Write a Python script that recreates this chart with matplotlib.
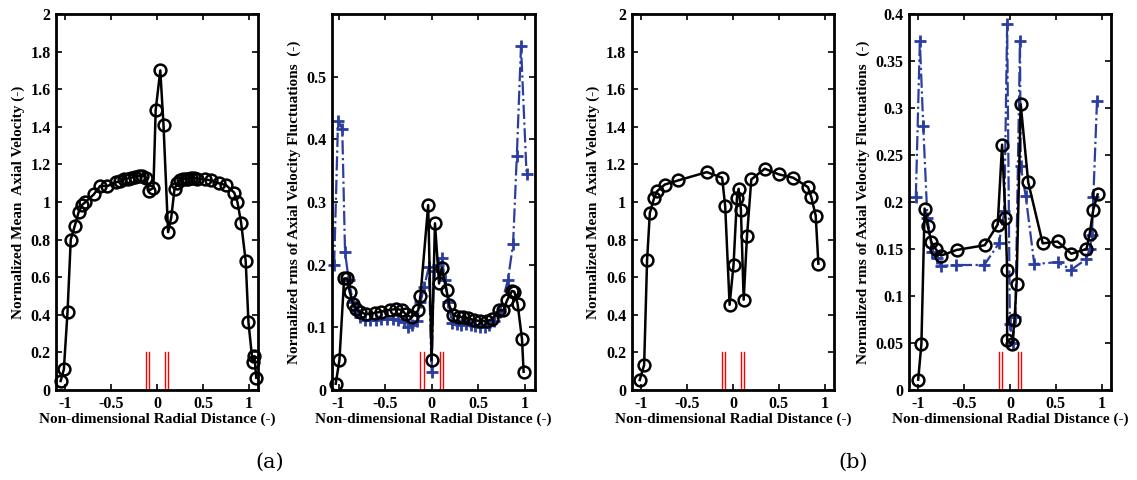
import numpy as np
import matplotlib
matplotlib.use('Agg')
import matplotlib.pyplot as plt
from matplotlib.ticker import FormatStrFormatter

plt.rcParams['font.family'] = 'Liberation Serif'
plt.rcParams['font.weight'] = 'bold'

# (a) mean axial velocity
xa_mean = [-1.05, -1.015, -0.975, -0.94, -0.895, -0.855, -0.815, -0.78, -0.69, -0.62,
           -0.54, -0.45, -0.40, -0.36, -0.32, -0.28, -0.24, -0.20, -0.16, -0.12,
           -0.09, -0.04, -0.015, 0.035, 0.07, 0.12, 0.155, 0.19, 0.22, 0.25,
           0.28, 0.31, 0.34, 0.37, 0.40, 0.43, 0.52, 0.59, 0.67, 0.75,
           0.84, 0.875, 0.915, 0.965, 0.995, 1.04, 1.06, 1.08]
ya_mean = [0.048, 0.11, 0.416, 0.80, 0.875, 0.945, 0.985, 1.0, 1.04, 1.085,
           1.085, 1.105, 1.11, 1.12, 1.125, 1.13, 1.135, 1.14, 1.14, 1.13,
           1.06, 1.075, 1.49, 1.70, 1.41, 0.84, 0.92, 1.07, 1.10, 1.115,
           1.12, 1.125, 1.125, 1.13, 1.13, 1.125, 1.12, 1.115, 1.10, 1.09,
           1.05, 1.0, 0.89, 0.685, 0.36, 0.148, 0.18, 0.065]

# (a) rms, black circles
xa_rms = [-1.03, -0.99, -0.94, -0.906, -0.88, -0.845, -0.81, -0.77, -0.70, -0.61,
          -0.54, -0.45, -0.38, -0.32, -0.28, -0.216, -0.144, -0.12, -0.037, 0.0,
          0.036, 0.08, 0.108, 0.16, 0.19, 0.234, 0.29, 0.34, 0.39, 0.45,
          0.52, 0.59, 0.65, 0.72, 0.77, 0.81, 0.863, 0.888, 0.923, 0.971, 0.988]
ya_rms = [0.01, 0.048, 0.178, 0.178, 0.157, 0.138, 0.129, 0.124, 0.121, 0.123,
          0.125, 0.128, 0.129, 0.128, 0.121, 0.116, 0.127, 0.150, 0.295, 0.048,
          0.266, 0.17, 0.195, 0.159, 0.135, 0.119, 0.117, 0.116, 0.115, 0.112,
          0.110, 0.110, 0.113, 0.127, 0.127, 0.143, 0.158, 0.157, 0.138, 0.081, 0.029]

# (a) rms, blue crosses
xa_rms2 = [-1.047, -1.005, -0.96, -0.93, -0.89, -0.845, -0.81, -0.77, -0.72, -0.66,
           -0.60, -0.54, -0.48, -0.42, -0.36, -0.30, -0.25, -0.21, -0.16, -0.12,
           -0.08, -0.03, 0.0, 0.025, 0.07, 0.108, 0.145, 0.18, 0.22, 0.27,
           0.32, 0.37, 0.42, 0.47, 0.52, 0.57, 0.62, 0.67, 0.73, 0.82,
           0.875, 0.915, 0.96, 1.02]
ya_rms2 = [0.20, 0.43, 0.417, 0.22, 0.175, 0.14, 0.128, 0.117, 0.112, 0.111,
           0.112, 0.114, 0.114, 0.113, 0.112, 0.108, 0.101, 0.104, 0.11, 0.14,
           0.165, 0.196, 0.028, 0.19, 0.20, 0.211, 0.175, 0.14, 0.107, 0.105,
           0.104, 0.105, 0.103, 0.102, 0.101, 0.100, 0.103, 0.11, 0.125, 0.176,
           0.233, 0.373, 0.549, 0.344]

# (b) mean axial velocity
xb_mean = [-1.013, -0.965, -0.933, -0.903, -0.856, -0.823, -0.74, -0.594, -0.284, -0.117,
           -0.084, -0.036, 0.007, 0.044, 0.062, 0.087, 0.117, 0.153, 0.2, 0.346,
           0.50, 0.656, 0.816, 0.852, 0.90, 0.929]
yb_mean = [0.053, 0.133, 0.69, 0.942, 1.022, 1.058, 1.093, 1.115, 1.159, 1.129,
           0.978, 0.453, 0.667, 1.022, 1.07, 0.96, 0.48, 0.818, 1.12, 1.177,
           1.147, 1.129, 1.079, 1.026, 0.928, 0.672]

# (b) rms, black circles
xb_rms = [-1.0, -0.965, -0.93, -0.895, -0.855, -0.81, -0.75, -0.58, -0.275, -0.133,
          -0.085, -0.048, -0.03, -0.03, 0.025, 0.05, 0.073, 0.118, 0.2, 0.358,
          0.52, 0.67, 0.835, 0.87, 0.91, 0.957]
yb_rms = [0.011, 0.049, 0.193, 0.174, 0.157, 0.15, 0.143, 0.149, 0.154, 0.176,
          0.261, 0.183, 0.128, 0.053, 0.049, 0.074, 0.113, 0.304, 0.221, 0.156,
          0.158, 0.145, 0.15, 0.166, 0.192, 0.208]

# (b) rms, blue crosses
xb_rms2 = [-1.026, -0.982, -0.945, -0.90, -0.845, -0.80, -0.75, -0.59, -0.28, -0.12,
           -0.06, -0.03, 0.0, 0.03, 0.06, 0.11, 0.118, 0.173, 0.266, 0.52,
           0.67, 0.83, 0.87, 0.895, 0.91, 0.95]
yb_rms2 = [0.205, 0.371, 0.281, 0.183, 0.147, 0.14, 0.132, 0.133, 0.133, 0.156,
           0.19, 0.389, 0.07, 0.05, 0.078, 0.371, 0.238, 0.206, 0.134, 0.136,
           0.128, 0.139, 0.15, 0.165, 0.205, 0.307]

# position of the red marks
red_x = [-0.12, -0.085, 0.085, 0.12]

xlabel = 'Non-dimensional Radial Distance (-)'
ylabel_mean = 'Normalized Mean  Axial Velocity (-)'
ylabel_rms = 'Normalized rms of Axial Velocity Fluctuations  (-)'

blue = '#2b3d9e'
fs = 11.5


def style_axes(ax, xlim, ylim, yticks, ylabel):
    ax.set_xlim(xlim)
    ax.set_ylim(ylim)
    ax.set_xticks([-1, -0.5, 0, 0.5, 1])
    ax.set_yticks(yticks)
    ax.xaxis.set_major_formatter(FormatStrFormatter('%g'))
    ax.yaxis.set_major_formatter(FormatStrFormatter('%g'))
    ax.tick_params(direction='in', top=True, right=True, length=4, width=1.2,
                   labelsize=fs, pad=4)
    for lab in ax.get_xticklabels() + ax.get_yticklabels():
        lab.set_fontweight('bold')
    for s in ax.spines.values():
        s.set_linewidth(2)
    ax.set_xlabel(xlabel, fontsize=11, fontweight='bold', labelpad=1)
    ax.set_ylabel(ylabel, fontsize=11, fontweight='bold', labelpad=4)
    for xr in red_x:
        ax.plot([xr, xr], [ylim[0], ylim[0] + 0.1 * (ylim[1] - ylim[0])],
                color='red', lw=1, zorder=1)


def black(ax, x, y):
    ax.plot(x, y, '-', color='black', lw=1.8, marker='o', ms=8.5,
            mfc='none', mec='black', mew=1.8, zorder=3, clip_on=False)


def bluecross(ax, x, y):
    ax.plot(x, y, '-.', color=blue, lw=1.6, marker='+', ms=8.5,
            mec=blue, mew=2, zorder=2, clip_on=False)


fig = plt.figure(figsize=(11.37, 4.8), dpi=100)
ax1 = fig.add_axes([0.0493, 0.1875, 0.1777, 0.7833])
ax2 = fig.add_axes([0.292, 0.1875, 0.1785, 0.7833])
ax3 = fig.add_axes([0.5556, 0.1875, 0.178, 0.7833])
ax4 = fig.add_axes([0.7995, 0.1875, 0.1774, 0.7833])

black(ax1, xa_mean, ya_mean)
style_axes(ax1, (-1.1, 1.1), (0, 2), np.arange(0, 2.01, 0.2), ylabel_mean)

bluecross(ax2, xa_rms2, ya_rms2)
black(ax2, xa_rms, ya_rms)
style_axes(ax2, (-1.07, 1.11), (0, 0.6), np.arange(0, 0.51, 0.1), ylabel_rms)

black(ax3, xb_mean, yb_mean)
style_axes(ax3, (-1.1, 1.1), (0, 2), np.arange(0, 2.01, 0.2), ylabel_mean)

bluecross(ax4, xb_rms2, yb_rms2)
black(ax4, xb_rms, yb_rms)
style_axes(ax4, (-1.1, 1.1), (0, 0.4), np.arange(0, 0.401, 0.05), ylabel_rms)

fig.text(270 / 1137, 1 - 462 / 480, '(a)', ha='center', va='center',
         fontsize=15, fontweight='normal', family='DejaVu Serif')
fig.text(853 / 1137, 1 - 462 / 480, '(b)', ha='center', va='center',
         fontsize=15, fontweight='normal', family='DejaVu Serif')

fig.savefig('out.png', dpi=100)
